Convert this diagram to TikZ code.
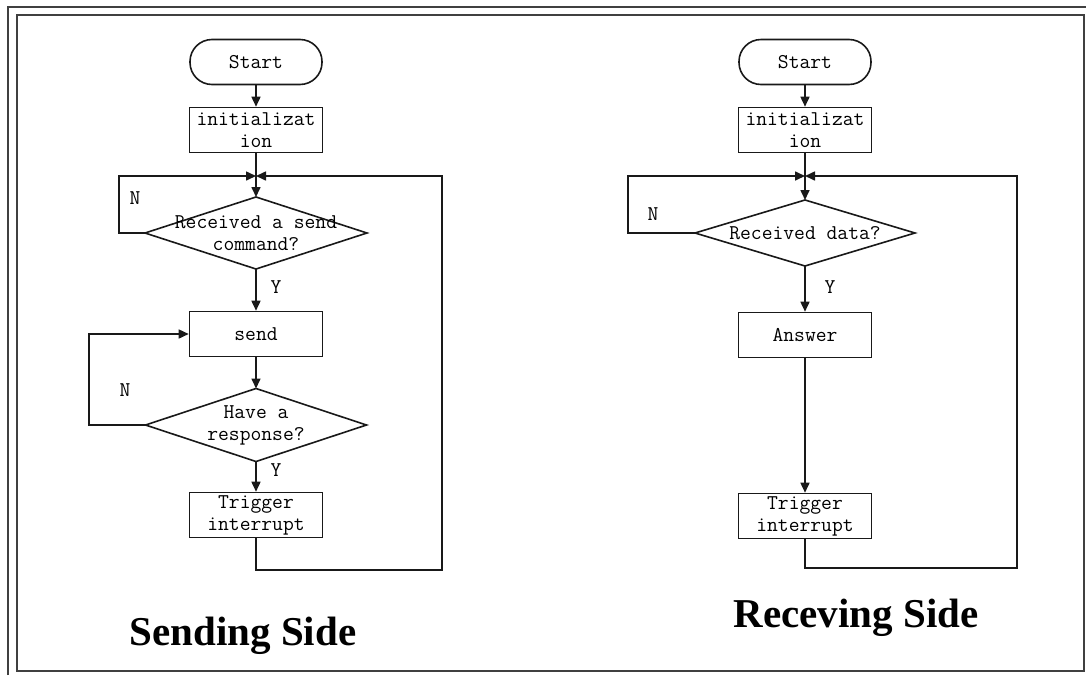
\documentclass[tikz,border=0pt]{standalone}
\usepackage{fontspec}
\newfontfamily\titlefont{Liberation Serif}
\usetikzlibrary{shapes.geometric,arrows.meta}
\newcommand\flowfont{\fontsize{21}{22}\selectfont\ttfamily}
\begin{document}
\begin{tikzpicture}[x=1pt,y=-1pt,
  line/.style={line width=1.6pt, draw=black!90},
  arr/.style={line, -{Triangle[length=10pt,width=9pt]}},
  frame/.style={line width=1.8pt, draw=black!75},
  term/.style={line, rectangle, rounded corners=22pt, minimum width=132pt, minimum height=45pt, inner sep=0pt, font=\flowfont},
  proc/.style={line, rectangle, minimum width=133pt, minimum height=45pt, inner sep=0pt, align=center, font=\flowfont},
  dec/.style={line, diamond, inner sep=0pt, outer sep=0pt},
  txt/.style={inner sep=0pt, align=center, font=\flowfont},
  lab/.style={inner sep=0pt, font=\flowfont},
  title/.style={inner sep=0pt, anchor=base, font=\titlefont\bfseries\fontsize{41}{44}\selectfont}
]
\useasboundingbox (0,0) rectangle (1086,675);
% frame
\draw[frame] (17,15) rectangle (1084,671);
\draw[frame] (8,675) -- (8,7) -- (1086,7);

% ---------------- Sending side ----------------
\node[term] (s1) at (256,62) {Start};
\node[proc] (i1) at (256,130) {initializat\\ion};
\coordinate (j1) at (256,176);
\node[dec, minimum width=222pt, minimum height=72pt] (d1) at (256,233) {};
\node[txt] (d1t) at (256,233) {Received a send\\command?};
\node[proc] (b1) at (256,334) {send};
\node[dec, minimum width=221pt, minimum height=73pt] (d2) at (256,425) {};
\node[txt] (d2t) at (256,425) {Have a\\response?};
\node[proc] (t1) at (256,515) {Trigger\\interrupt};
\coordinate (l1) at (119,176);
\coordinate (l2) at (89,334);
\coordinate (r1) at (442,570);

\draw[arr] (s1) -- (i1);
\draw[line] (i1.south) -- (j1);
\draw[arr] (j1) -- (d1.north);
\draw[arr] (d1.west) -| (l1) -- (j1);
\draw[arr] (d1.south) -- (b1.north);
\draw[arr] (b1.south) -- (d2.north);
\draw[arr] (d2.west) -| (l2) -- (b1.west);
\draw[arr] (d2.south) -- (t1.north);
\draw[arr] (t1.south) |- (r1) |- (j1);

\node[lab] (n1) at (135,198) {N};
\node[lab] (y1) at (276,287) {Y};
\node[lab] (n2) at (125,390) {N};
\node[lab] (y2) at (276,470) {Y};

\node[title] (ts) at (243,645) {Sending Side};

% ---------------- Receiving side ----------------
\node[term] (s2) at (805,62) {Start};
\node[proc] (i2) at (805,130) {initializat\\ion};
\coordinate (j2) at (805,176);
\node[dec, minimum width=220pt, minimum height=66pt] (d3) at (805,233) {};
\node[txt] (d3t) at (805,233) {Received data?};
\node[proc] (a2) at (805,335) {Answer};
\node[proc] (t2) at (805,516) {Trigger\\interrupt};
\coordinate (l3) at (628,176);
\coordinate (r2) at (1017,568);

\draw[arr] (s2) -- (i2);
\draw[line] (i2.south) -- (j2);
\draw[arr] (j2) -- (d3.north);
\draw[arr] (d3.west) -| (l3) -- (j2);
\draw[arr] (d3.south) -- (a2.north);
\draw[arr] (a2.south) -- (t2.north);
\draw[arr] (t2.south) |- (r2) |- (j2);

\node[lab] (n3) at (653,214) {N};
\node[lab] (y3) at (830,287) {Y};

\node[title] (tr) at (856,627) {Receving Side};
\end{tikzpicture}
\end{document}
